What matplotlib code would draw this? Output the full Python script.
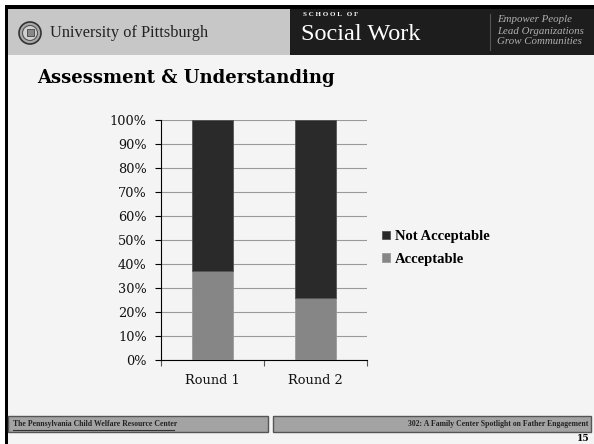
import numpy as np
import matplotlib
matplotlib.use("Agg")
import matplotlib.pyplot as plt
from matplotlib.patches import Rectangle, Circle

# chart data
rounds = ["Round 1", "Round 2"]
acceptable = [37, 26]
not_acceptable = [63, 74]
yticks = [0, 10, 20, 30, 40, 50, 60, 70, 80, 90, 100]

W, H = 594, 444
fig = plt.figure(figsize=(W / 100, H / 100), dpi=100, facecolor="white")

# slide background drawn in pixel coordinates
bg = fig.add_axes([0, 0, 1, 1])
bg.set_xlim(0, W)
bg.set_ylim(H, 0)
bg.axis("off")

bg.add_patch(Rectangle((8, 9), W - 8, H - 9, color="#f4f4f4", lw=0))
bg.add_patch(Rectangle((8, 9), 282, 46, color="#c7c7c7", lw=0))
bg.add_patch(Rectangle((290, 9), W - 290, 46, color="#1d1d1d", lw=0))
bg.add_patch(Rectangle((5, 5), W - 5, 4, color="black", lw=0))
bg.add_patch(Rectangle((5, 5), 3, H - 5, color="black", lw=0))

# university seal
bg.add_patch(Circle((30, 33), 11, facecolor="#a8a8a8", edgecolor="#333333", lw=1.2))
bg.add_patch(Circle((30, 33), 7.5, facecolor="#d0d0d0", edgecolor="#555555", lw=0.8))
bg.add_patch(Rectangle((26.5, 29.5), 7, 7, facecolor="#888888", edgecolor="#444444", lw=0.6))

serif = "DejaVu Serif"
bg.text(50, 33, "University of Pittsburgh", family="Liberation Serif", fontsize=11.8,
        color="#222222", va="center", ha="left")
bg.text(303, 15, "S C H O O L   O F", family="Liberation Serif", fontsize=5, color="white",
        va="center", ha="left", weight="bold")
bg.text(301, 35, "Social Work", family="Liberation Serif", fontsize=17.5, color="white",
        va="center", ha="left")
bg.plot([490, 490], [14, 50], color="#555555", lw=0.8)
for i, s in enumerate(["Empower People", "Lead Organizations", "Grow Communities"]):
    bg.text(497, 20 + i * 11, s, family="Liberation Serif", style="italic", fontsize=7.8,
            color="#b0b0b0", va="center", ha="left")

bg.text(37, 78, "Assessment & Understanding", family=serif, weight="bold", fontsize=13,
        color="black", va="center", ha="left")

# footer
bg.add_patch(Rectangle((8, 416), 260, 16, facecolor="#a3a3a3", edgecolor="#555555", lw=1))
bg.add_patch(Rectangle((273, 416), 318, 16, facecolor="#a3a3a3", edgecolor="#555555", lw=1))
bg.text(13, 424, "The Pennsylvania Child Welfare Resource Center", family="Liberation Serif",
        weight="bold", fontsize=5.6, color="#222222", va="center", ha="left")
bg.plot([13, 174], [430, 430], color="#333333", lw=0.8)
bg.text(588, 424, "302: A Family Center Spotlight on Father Engagement", family="Liberation Serif",
        weight="bold", fontsize=5.6, color="#222222", va="center", ha="right")
bg.text(589, 438, "15", family=serif, weight="bold", fontsize=6.5, color="black",
        va="center", ha="right")

# chart
ax = fig.add_axes([160.7 / W, 1 - 360 / H, 206 / W, 240 / H])
ax.set_facecolor("none")
x = np.arange(len(rounds))
ax.bar(x, acceptable, width=0.4, color="#868686", edgecolor="#9a9a9a", lw=0.6,
       label="Acceptable", zorder=3)
ax.bar(x, not_acceptable, width=0.4, bottom=acceptable, color="#2a2a2a", edgecolor="#555555",
       lw=0.6, label="Not Acceptable", zorder=3)
ax.set_xlim(-0.5, 1.5)
ax.set_ylim(0, 100)
ax.set_yticks(yticks)
ax.set_yticklabels([f"{v}%" for v in yticks])
ax.set_xticks(x)
ax.set_xticklabels(rounds)
ax.set_xticks([-0.5, 0.5, 1.5], minor=True)
ax.tick_params(axis="x", which="major", length=0, pad=10)
ax.tick_params(axis="x", which="minor", length=4, width=0.8, color="#555555")
ax.tick_params(axis="y", length=4, width=0.8, pad=6)
for lab in ax.get_xticklabels() + ax.get_yticklabels():
    lab.set_family(serif)
    lab.set_fontsize(9.3)
    lab.set_color("#111111")
ax.yaxis.grid(True, color="#999999", lw=0.8, zorder=0)
for side in ["top", "right"]:
    ax.spines[side].set_visible(False)
ax.spines["left"].set_color("black")
ax.spines["bottom"].set_color("black")

handles, labels = ax.get_legend_handles_labels()
leg = fig.legend(handles[::-1], labels[::-1], loc="center left",
                 bbox_to_anchor=(369 / W, 1 - 248 / H), frameon=False,
                 prop={"family": "Liberation Serif", "weight": "bold", "size": 10.5},
                 handlelength=0.55, handleheight=0.55, handletextpad=0.3, labelspacing=0.65)

fig.savefig("out.png", dpi=100, facecolor="white")
